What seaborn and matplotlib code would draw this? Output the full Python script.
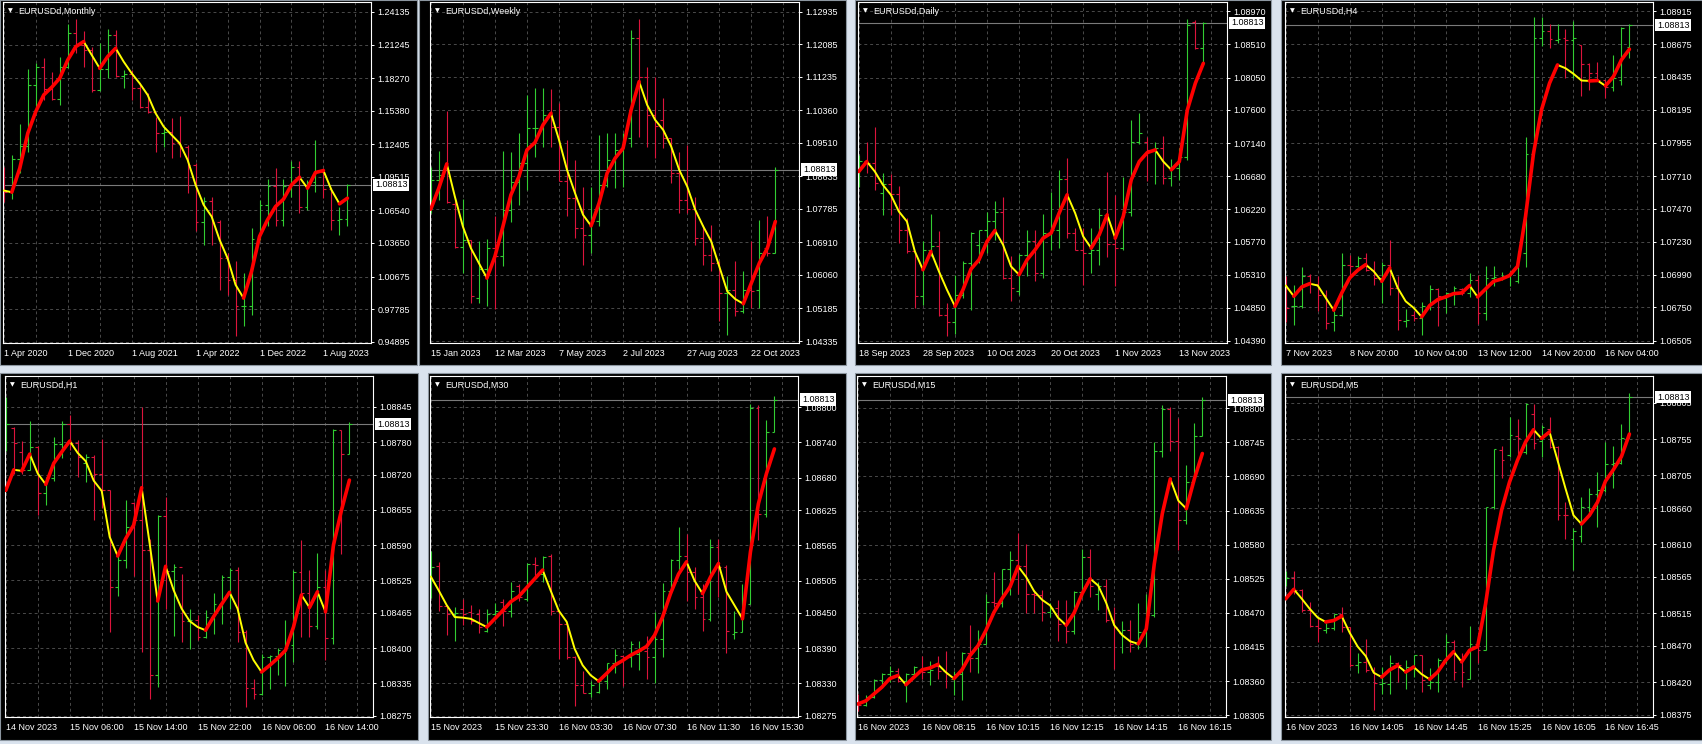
import numpy as np
import matplotlib
matplotlib.use("Agg")
import matplotlib.pyplot as plt
import seaborn as sns
from matplotlib.patches import Rectangle

# ---------------- DATA ----------------
monthly_high = [1.1043,1.1146,1.1421,1.1908,1.1959,1.2003,1.1885,1.2012,1.2307,1.2349,1.2248,
                1.2106,1.2142,1.2260,1.2254,1.1900,1.1900,1.1781,1.1693,1.1486,1.1397,1.1471,
                1.1492,1.1235,1.1072,1.0777,1.0771,1.0570,1.0275,1.0201,1.0098,1.0496,1.0747,
                1.0930,1.1028,1.0930,1.1093,1.1093,1.0925,1.1279,1.1028,1.0851,1.0688,1.0889]
monthly_low = [1.0727,1.0756,1.0984,1.1176,1.1545,1.1634,1.1634,1.1589,1.1914,1.2047,1.1929,
               1.1707,1.1716,1.1826,1.1840,1.1737,1.1634,1.1560,1.1515,1.1176,1.1220,1.1117,
               1.1131,1.0806,1.0467,1.0349,1.0349,0.9950,0.9905,0.9536,0.9625,0.9728,1.0393,
               1.0511,1.0511,1.0511,1.0777,1.0629,1.0659,1.0821,1.0762,1.0482,1.0437,1.0511]
monthly_open = [1.0948,1.0821,1.1108,1.1229,1.1767,1.1929,1.1728,1.1642,1.1923,1.2224,1.2121,
                1.2077,1.1722,1.1905,1.2210,1.1846,1.1864,1.1737,1.1575,1.1530,1.1338,1.1353,
                1.1250,1.1220,1.1058,1.0555,1.0733,1.0555,1.0230,1.0038,0.9802,0.9808,1.0399,
                1.0703,1.0866,1.0570,1.0866,1.1043,1.0682,1.0910,1.0998,1.0842,1.0570,1.0576]
monthly_close = [1.0821,1.1108,1.1229,1.1767,1.1929,1.1728,1.1642,1.1923,1.2224,1.2121,1.2077,
                 1.1722,1.1905,1.2210,1.1846,1.1864,1.1737,1.1575,1.1530,1.1338,1.1353,1.1250,
                 1.1220,1.1058,1.0555,1.0733,1.0555,1.0230,1.0038,0.9802,0.9808,1.0399,1.0703,
                 1.0866,1.0570,1.0866,1.1043,1.0682,1.0910,1.0998,1.0842,1.0570,1.0576,1.08813]
monthly_ma = [1.0830,1.0815,1.1028,1.1338,1.1530,1.1678,1.1746,1.1826,1.1988,1.2106,1.2151,
              1.2032,1.1914,1.2018,1.2092,1.1973,1.1870,1.1781,1.1678,1.1515,1.1397,1.1323,
              1.1250,1.1102,1.0880,1.0703,1.0600,1.0393,1.0230,0.9994,0.9876,1.0112,1.0423,
              1.0570,1.0688,1.0753,1.0880,1.0948,1.0851,1.0990,1.1007,1.0836,1.0712,1.0762]
monthly_prices = [1.24135,1.21245,1.18270,1.15380,1.12405,1.09515,1.06540,1.03650,1.00675,0.97785,0.94895]
monthly_dates = ["1 Apr 2020","1 Dec 2020","1 Aug 2021","1 Apr 2022","1 Dec 2022","1 Aug 2023"]

weekly_high = [1.08891,1.09300,1.10343,1.08039,1.08039,1.06978,1.06934,1.07004,1.07604,1.09300,1.09282,
               1.09761,1.10761,1.10935,1.10935,1.10908,1.10543,1.09587,1.09065,1.08369,1.08369,1.09717,
               1.09761,1.09761,1.09761,1.12456,1.12735,1.11500,1.11239,1.10674,1.09630,1.09282,1.09456,
               1.08108,1.07369,1.07369,1.06413,1.06021,1.06413,1.06152,1.06934,1.07500,1.07587,1.08891]
weekly_low = [1.07674,1.08021,1.07934,1.06760,1.06108,1.05326,1.05326,1.05239,1.05169,1.06300,1.07430,
              1.07891,1.08282,1.09152,1.09413,1.09413,1.08500,1.07587,1.07021,1.06326,1.06630,1.07326,
              1.08369,1.08326,1.08369,1.09413,1.09674,1.09413,1.09108,1.09369,1.08456,1.07674,1.07674,
              1.06847,1.06326,1.06152,1.04847,1.04500,1.04978,1.05065,1.05195,1.05195,1.06543,1.06630]
weekly_open = [1.07778,1.08543,1.08917,1.07917,1.06787,1.06960,1.05456,1.06213,1.06760,1.06543,1.07743,
               1.08474,1.08995,1.09891,1.09908,1.10239,1.09935,1.08500,1.08065,1.07282,1.07108,1.07456,
               1.08413,1.09065,1.09326,1.09630,1.12239,1.11239,1.10239,1.10108,1.09630,1.08717,1.08021,
               1.07778,1.07021,1.06587,1.06369,1.05587,1.05673,1.05108,1.05673,1.05673,1.06760,1.06630]
weekly_close = [1.08543,1.08674,1.07952,1.06787,1.06960,1.05500,1.06213,1.06760,1.06543,1.07743,1.08474,
                1.08995,1.09891,1.09908,1.10239,1.09935,1.08500,1.08065,1.07282,1.07108,1.07456,1.08413,
                1.09065,1.09326,1.09630,1.12239,1.11239,1.10239,1.09952,1.09630,1.08717,1.08021,1.07778,
                1.07021,1.06587,1.06369,1.05587,1.05673,1.05108,1.05673,1.05630,1.06630,1.06630,1.08813]
weekly_ma = [1.07778,1.08326,1.08961,1.08108,1.07326,1.06760,1.06369,1.05978,1.06543,1.07326,1.08152,
             1.08630,1.09326,1.09517,1.09978,1.10282,1.09587,1.08804,1.08195,1.07630,1.07343,1.07934,
             1.08717,1.09108,1.09369,1.10369,1.11108,1.10500,1.10108,1.09848,1.09413,1.08804,1.08369,
             1.07761,1.07326,1.06934,1.06282,1.05630,1.05430,1.05308,1.05847,1.06369,1.06760,1.07456]
weekly_prices = [1.12935,1.12085,1.11235,1.10360,1.09510,1.08635,1.07785,1.06910,1.06060,1.05185,1.04335]
weekly_dates = ["15 Jan 2023","12 Mar 2023","7 May 2023","2 Jul 2023","27 Aug 2023","22 Oct 2023"]

daily_high = [1.06976,1.07161,1.07369,1.06721,1.06712,1.06546,1.06097,1.05634,1.05773,1.06157,1.05912,
              1.04917,1.05311,1.05496,1.05898,1.05935,1.06180,1.06338,1.06388,1.05565,1.05602,1.05935,
              1.05935,1.06157,1.06467,1.06768,1.06939,1.05958,1.05958,1.05958,1.06236,1.06735,1.06421,
              1.06675,1.07462,1.07554,1.07221,1.07161,1.07240,1.06916,1.07068,1.08859,1.08849,1.08826]
daily_low = [1.06536,1.06731,1.06481,1.06143,1.06143,1.05750,1.05611,1.04848,1.04894,1.05565,1.04742,
             1.04464,1.04492,1.04987,1.04816,1.05472,1.05611,1.05796,1.05250,1.04940,1.05033,1.05287,
             1.05218,1.05264,1.05648,1.05681,1.05819,1.05657,1.05172,1.05334,1.05449,1.05556,1.05149,
             1.05657,1.06129,1.07129,1.06606,1.06573,1.06573,1.06546,1.06629,1.06907,1.08442,1.08271]
daily_open = [1.06721,1.06897,1.06860,1.06444,1.06573,1.06435,1.05926,1.05634,1.05019,1.05648,1.05704,
              1.04755,1.04649,1.05033,1.05472,1.05727,1.05935,1.06051,1.06189,1.05264,1.05079,1.05588,
              1.05773,1.05334,1.05889,1.05935,1.06638,1.05889,1.05657,1.05611,1.05657,1.06143,1.05741,
              1.05681,1.06189,1.07161,1.07161,1.07045,1.07068,1.06652,1.06791,1.06953,1.08826,1.08456]
daily_close = [1.06897,1.06860,1.06592,1.06573,1.06435,1.05926,1.05634,1.05019,1.05648,1.05704,1.04755,
               1.04649,1.05033,1.05472,1.05889,1.05935,1.06051,1.06189,1.05264,1.05125,1.05588,1.05773,
               1.05334,1.05889,1.05935,1.06638,1.05889,1.05657,1.05611,1.05657,1.06143,1.05741,1.05681,
               1.06189,1.07161,1.07286,1.07045,1.07068,1.06652,1.06791,1.06953,1.08780,1.08456,1.08813]
daily_ma = [1.06745,1.06883,1.06745,1.06560,1.06421,1.06189,1.06051,1.05634,1.05380,1.05634,1.05357,
            1.05102,1.04871,1.05102,1.05389,1.05519,1.05773,1.05926,1.05727,1.05426,1.05311,1.05519,
            1.05657,1.05819,1.05889,1.06166,1.06421,1.06166,1.05843,1.05681,1.05866,1.06143,1.05819,
            1.06120,1.06629,1.06883,1.07008,1.07045,1.06883,1.06768,1.06883,1.07600,1.07971,1.08248]
daily_prices = [1.08970,1.08510,1.08050,1.07600,1.07140,1.06680,1.06220,1.05770,1.05310,1.04850,1.04390]
daily_dates = ["18 Sep 2023","28 Sep 2023","10 Oct 2023","20 Oct 2023","1 Nov 2023","13 Nov 2023"]

h4_high = [1.06978,1.06917,1.07044,1.06997,1.06983,1.06876,1.06722,1.07148,1.07136,1.07129,1.07148,
           1.07087,1.07080,1.07245,1.06978,1.06739,1.06722,1.06788,1.06917,1.06893,1.06861,1.06905,
           1.06893,1.07002,1.06990,1.07051,1.07051,1.07007,1.07014,1.07160,1.07995,1.08871,1.08871,
           1.08823,1.08823,1.08784,1.08847,1.08669,1.08540,1.08548,1.08414,1.08596,1.08803,1.08820]
h4_low = [1.06642,1.06625,1.06747,1.06856,1.06722,1.06593,1.06576,1.06691,1.06958,1.07039,1.07014,
          1.06917,1.06783,1.06844,1.06584,1.06608,1.06649,1.06545,1.06734,1.06613,1.06710,1.06771,
          1.06844,1.06827,1.06632,1.06661,1.06905,1.06953,1.06905,1.06929,1.07046,1.07873,1.08662,
          1.08645,1.08686,1.08426,1.08426,1.08297,1.08341,1.08414,1.08280,1.08329,1.08377,1.08572]
h4_open = [1.06905,1.06759,1.06759,1.06978,1.06924,1.06844,1.06642,1.06698,1.07063,1.07051,1.07112,
           1.07026,1.06966,1.07063,1.06893,1.06649,1.06698,1.06674,1.06764,1.06885,1.06820,1.06856,
           1.06885,1.06856,1.06953,1.06710,1.06966,1.06966,1.06978,1.06941,1.07148,1.07873,1.08718,
           1.08774,1.08706,1.08718,1.08706,1.08669,1.08531,1.08462,1.08414,1.08360,1.08414,1.08657]
h4_close = [1.06747,1.06764,1.06983,1.06924,1.06844,1.06637,1.06698,1.07063,1.07051,1.07112,1.07026,
            1.06966,1.07063,1.06893,1.06661,1.06657,1.06674,1.06764,1.06885,1.06832,1.06856,1.06893,
            1.06856,1.06953,1.06710,1.06966,1.06973,1.06978,1.07002,1.07148,1.07873,1.08718,1.08774,
            1.08711,1.08711,1.08706,1.08718,1.08531,1.08462,1.08414,1.08360,1.08426,1.08791,1.08813]
h4_ma = [1.06910,1.06832,1.06900,1.06924,1.06910,1.06820,1.06730,1.06856,1.06966,1.07022,1.07063,
         1.07014,1.06941,1.07039,1.06893,1.06795,1.06747,1.06681,1.06764,1.06807,1.06827,1.06851,
         1.06856,1.06910,1.06827,1.06885,1.06941,1.06958,1.06983,1.07051,1.07416,1.07878,1.08195,
         1.08389,1.08523,1.08499,1.08458,1.08409,1.08406,1.08409,1.08370,1.08438,1.08560,1.08638]
h4_prices = [1.08915,1.08675,1.08435,1.08195,1.07955,1.07710,1.07470,1.07230,1.06990,1.06750,1.06505]
h4_dates = ["7 Nov 2023","8 Nov 20:00","10 Nov 04:00","13 Nov 12:00","14 Nov 20:00","16 Nov 04:00"]

h1_high = [1.08864,1.08808,1.08782,1.08819,1.08773,1.08716,1.08789,1.08819,1.08830,1.08784,1.08759,
           1.08756,1.08785,1.08691,1.08578,1.08673,1.08670,1.08845,1.08602,1.08645,1.08679,1.08556,
           1.08536,1.08473,1.08461,1.08470,1.08502,1.08535,1.08547,1.08550,1.08433,1.08344,1.08390,
           1.08387,1.08401,1.08452,1.08544,1.08599,1.08544,1.08575,1.08545,1.08805,1.08802,1.08817]
h1_low = [1.08764,1.08722,1.08722,1.08728,1.08645,1.08664,1.08709,1.08750,1.08765,1.08716,1.08707,
          1.08636,1.08658,1.08430,1.08496,1.08547,1.08533,1.08393,1.08307,1.08328,1.08473,1.08422,
          1.08412,1.08399,1.08415,1.08418,1.08427,1.08445,1.08473,1.08412,1.08292,1.08307,1.08313,
          1.08325,1.08350,1.08330,1.08375,1.08421,1.08421,1.08436,1.08379,1.08408,1.08573,1.08758]
h1_open = [1.08771,1.08807,1.08762,1.08729,1.08771,1.08686,1.08713,1.08777,1.08813,1.08779,1.08741,
           1.08752,1.08722,1.08691,1.08512,1.08562,1.08667,1.08636,1.08581,1.08350,1.08643,1.08543,
           1.08550,1.08450,1.08452,1.08421,1.08458,1.08482,1.08531,1.08544,1.08430,1.08327,1.08315,
           1.08384,1.08385,1.08396,1.08405,1.08541,1.08501,1.08440,1.08513,1.08418,1.08802,1.08759]
h1_close = [1.08814,1.08779,1.08729,1.08771,1.08686,1.08713,1.08777,1.08813,1.08779,1.08752,1.08752,
            1.08722,1.08691,1.08512,1.08562,1.08624,1.08636,1.08581,1.08350,1.08643,1.08543,1.08550,
            1.08450,1.08452,1.08421,1.08458,1.08482,1.08531,1.08544,1.08430,1.08327,1.08315,1.08384,
            1.08385,1.08396,1.08405,1.08541,1.08501,1.08440,1.08513,1.08418,1.08802,1.08759,1.08813]
h1_ma = [1.08691,1.08729,1.08727,1.08758,1.08722,1.08702,1.08741,1.08762,1.08782,1.08760,1.08745,
         1.08709,1.08690,1.08605,1.08570,1.08602,1.08627,1.08696,1.08593,1.08487,1.08551,1.08507,
         1.08473,1.08450,1.08439,1.08433,1.08458,1.08481,1.08503,1.08473,1.08410,1.08378,1.08356,
         1.08368,1.08381,1.08396,1.08439,1.08498,1.08475,1.08504,1.08467,1.08590,1.08654,1.08710]
h1_prices = [1.08845,1.08780,1.08720,1.08655,1.08590,1.08525,1.08465,1.08400,1.08335,1.08275]
h1_dates = ["14 Nov 2023","15 Nov 06:00","15 Nov 14:00","15 Nov 22:00","16 Nov 06:00","16 Nov 14:00"]

m30_high = [1.08555,1.08537,1.08463,1.08460,1.08473,1.08463,1.08456,1.08456,1.08467,1.08473,1.08503,
            1.08499,1.08535,1.08545,1.08546,1.08550,1.08454,1.08433,1.08376,1.08352,1.08335,1.08336,
            1.08365,1.08388,1.08378,1.08402,1.08403,1.08410,1.08452,1.08501,1.08541,1.08597,1.08585,
            1.08528,1.08500,1.08575,1.08575,1.08531,1.08454,1.08499,1.08806,1.08803,1.08778,1.08819]
m30_low = [1.08476,1.08453,1.08412,1.08402,1.08429,1.08431,1.08416,1.08418,1.08440,1.08427,1.08443,
           1.08470,1.08471,1.08511,1.08503,1.08446,1.08372,1.08372,1.08291,1.08313,1.08307,1.08314,
           1.08321,1.08347,1.08325,1.08358,1.08353,1.08338,1.08330,1.08375,1.08483,1.08518,1.08470,
           1.08457,1.08420,1.08437,1.08477,1.08382,1.08405,1.08418,1.08466,1.08574,1.08613,1.08758]
m30_open = [1.08483,1.08529,1.08461,1.08448,1.08456,1.08452,1.08448,1.08420,1.08448,1.08469,1.08454,
            1.08495,1.08474,1.08534,1.08517,1.08546,1.08453,1.08432,1.08375,1.08327,1.08314,1.08316,
            1.08335,1.08364,1.08376,1.08375,1.08381,1.08385,1.08375,1.08405,1.08488,1.08540,1.08546,
            1.08520,1.08477,1.08440,1.08562,1.08528,1.08415,1.08418,1.08466,1.08799,1.08618,1.08758]
m30_close = [1.08528,1.08461,1.08448,1.08450,1.08448,1.08437,1.08426,1.08448,1.08454,1.08454,1.08488,
             1.08477,1.08534,1.08531,1.08545,1.08453,1.08432,1.08375,1.08327,1.08314,1.08327,1.08335,
             1.08364,1.08378,1.08375,1.08398,1.08385,1.08375,1.08405,1.08488,1.08540,1.08546,1.08520,
             1.08477,1.08440,1.08562,1.08528,1.08419,1.08418,1.08466,1.08799,1.08618,1.08758,1.08813]
m30_ma = [1.08512,1.08488,1.08463,1.08443,1.08442,1.08440,1.08433,1.08426,1.08440,1.08454,1.08469,
          1.08478,1.08493,1.08508,1.08523,1.08488,1.08454,1.08435,1.08389,1.08361,1.08344,1.08334,
          1.08347,1.08361,1.08369,1.08378,1.08385,1.08393,1.08412,1.08443,1.08483,1.08516,1.08537,
          1.08505,1.08483,1.08511,1.08534,1.08486,1.08463,1.08440,1.08554,1.08636,1.08687,1.08729]
m30_prices = [1.08800,1.08740,1.08680,1.08625,1.08565,1.08505,1.08450,1.08390,1.08330,1.08275]
m30_dates = ["15 Nov 2023","15 Nov 23:30","16 Nov 03:30","16 Nov 07:30","16 Nov 11:30","16 Nov 15:30"]

m15_high = [1.08339,1.08338,1.08364,1.08373,1.08385,1.08381,1.08373,1.08385,1.08400,1.08392,1.08400,
            1.08408,1.08377,1.08407,1.08450,1.08443,1.08500,1.08536,1.08541,1.08570,1.08599,1.08581,
            1.08507,1.08507,1.08486,1.08490,1.08491,1.08505,1.08573,1.08573,1.08520,1.08525,1.08480,
            1.08457,1.08458,1.08486,1.08501,1.08746,1.08806,1.08802,1.08785,1.08708,1.08776,1.08818]
m15_low = [1.08312,1.08319,1.08333,1.08351,1.08358,1.08358,1.08326,1.08366,1.08364,1.08354,1.08364,
           1.08349,1.08338,1.08330,1.08374,1.08373,1.08419,1.08479,1.08479,1.08498,1.08501,1.08470,
           1.08470,1.08457,1.08463,1.08424,1.08421,1.08436,1.08496,1.08495,1.08475,1.08455,1.08380,
           1.08405,1.08407,1.08412,1.08415,1.08464,1.08721,1.08731,1.08572,1.08613,1.08681,1.08756]
m15_open = [1.08326,1.08322,1.08334,1.08362,1.08372,1.08377,1.08360,1.08372,1.08378,1.08374,1.08385,
            1.08377,1.08364,1.08371,1.08405,1.08397,1.08420,1.08487,1.08486,1.08541,1.08555,1.08546,
            1.08501,1.08498,1.08471,1.08478,1.08452,1.08440,1.08504,1.08560,1.08501,1.08514,1.08458,
            1.08437,1.08442,1.08420,1.08439,1.08466,1.08731,1.08798,1.08747,1.08620,1.08681,1.08756]
m15_close = [1.08322,1.08334,1.08362,1.08372,1.08377,1.08360,1.08372,1.08383,1.08374,1.08378,1.08377,
             1.08372,1.08371,1.08405,1.08397,1.08420,1.08487,1.08486,1.08541,1.08555,1.08546,1.08501,
             1.08498,1.08471,1.08478,1.08452,1.08440,1.08504,1.08560,1.08514,1.08514,1.08458,1.08447,
             1.08442,1.08420,1.08439,1.08466,1.08731,1.08798,1.08747,1.08620,1.08681,1.08756,1.08813]
m15_ma = [1.08323,1.08328,1.08339,1.08350,1.08364,1.08369,1.08354,1.08366,1.08378,1.08381,1.08387,
          1.08374,1.08364,1.08378,1.08401,1.08417,1.08442,1.08471,1.08493,1.08512,1.08545,1.08528,
          1.08505,1.08491,1.08482,1.08462,1.08450,1.08470,1.08501,1.08525,1.08514,1.08486,1.08450,
          1.08434,1.08424,1.08420,1.08444,1.08549,1.08630,1.08686,1.08651,1.08638,1.08686,1.08727]
m15_prices = [1.08800,1.08745,1.08690,1.08635,1.08580,1.08525,1.08470,1.08415,1.08360,1.08305]
m15_dates = ["16 Nov 2023","16 Nov 08:15","16 Nov 10:15","16 Nov 12:15","16 Nov 14:15","16 Nov 16:15"]

m5_high = [1.08573,1.08573,1.08548,1.08531,1.08508,1.08501,1.08514,1.08524,1.08496,1.08460,1.08480,
           1.08441,1.08441,1.08457,1.08448,1.08451,1.08458,1.08458,1.08439,1.08454,1.08487,1.08478,
           1.08460,1.08498,1.08483,1.08662,1.08742,1.08746,1.08786,1.08783,1.08805,1.08804,1.08774,
           1.08786,1.08746,1.08668,1.08632,1.08675,1.08688,1.08710,1.08751,1.08746,1.08776,1.08819]
m5_low = [1.08552,1.08542,1.08517,1.08496,1.08475,1.08488,1.08492,1.08489,1.08441,1.08433,1.08434,
          1.08381,1.08404,1.08404,1.08420,1.08411,1.08427,1.08407,1.08411,1.08407,1.08446,1.08423,
          1.08413,1.08425,1.08446,1.08464,1.08659,1.08701,1.08731,1.08726,1.08735,1.08742,1.08730,
          1.08743,1.08643,1.08618,1.08574,1.08613,1.08655,1.08634,1.08682,1.08688,1.08721,1.08757]
m5_open = [1.08561,1.08563,1.08547,1.08519,1.08498,1.08492,1.08494,1.08514,1.08496,1.08443,1.08448,
           1.08437,1.08417,1.08417,1.08446,1.08436,1.08439,1.08457,1.08416,1.08420,1.08450,1.08475,
           1.08450,1.08425,1.08473,1.08465,1.08661,1.08740,1.08733,1.08759,1.08737,1.08790,1.08752,
           1.08769,1.08744,1.08651,1.08618,1.08622,1.08662,1.08680,1.08685,1.08721,1.08722,1.08757]
m5_close = [1.08563,1.08547,1.08519,1.08498,1.08494,1.08495,1.08514,1.08496,1.08443,1.08448,1.08437,
            1.08419,1.08419,1.08446,1.08443,1.08441,1.08457,1.08423,1.08420,1.08450,1.08475,1.08434,
            1.08434,1.08473,1.08465,1.08661,1.08741,1.08726,1.08760,1.08756,1.08803,1.08749,1.08772,
            1.08744,1.08651,1.08650,1.08629,1.08662,1.08680,1.08685,1.08721,1.08722,1.08757,1.08813]
m5_ma = [1.08535,1.08548,1.08535,1.08521,1.08509,1.08503,1.08505,1.08511,1.08488,1.08469,1.08456,
         1.08433,1.08427,1.08437,1.08443,1.08434,1.08441,1.08431,1.08424,1.08434,1.08450,1.08462,
         1.08448,1.08464,1.08469,1.08528,1.08602,1.08657,1.08696,1.08726,1.08751,1.08768,1.08756,
         1.08765,1.08726,1.08687,1.08650,1.08638,1.08650,1.08668,1.08697,1.08713,1.08731,1.08762]
m5_prices = [1.08805,1.08755,1.08705,1.08660,1.08610,1.08565,1.08515,1.08470,1.08420,1.08375]
m5_dates = ["16 Nov 2023","16 Nov 14:05","16 Nov 14:45","16 Nov 15:25","16 Nov 16:05","16 Nov 16:45"]

current_price = 1.08813
symbol = "EURUSDd"

# ---------------- STYLE / LAYOUT ----------------
W, H = 1702, 744
BAR_UP = "#32cd32"
BAR_DN = "#dc143c"
MA_UP = "#ff0000"
MA_DN = "#ffff00"
GRID = "#4a4a4a"
GAP = "#dae3ee"

sns.set_style("dark", {"axes.facecolor": "black", "figure.facecolor": GAP})
plt.rcParams["font.family"] = ["Liberation Sans", "DejaVu Sans"]
plt.rcParams["font.size"] = 6.5

panels = [
    dict(tf="Monthly", o=monthly_open, h=monthly_high, l=monthly_low, c=monthly_close, ma=monthly_ma,
         yt=monthly_prices, xt=monthly_dates, ylim=(0.94777, 1.25021),
         plot=(3, 2, 371, 343), win=(0, 0, 417, 365)),
    dict(tf="Weekly", o=weekly_open, h=weekly_high, l=weekly_low, c=weekly_close, ma=weekly_ma,
         yt=weekly_prices, xt=weekly_dates, ylim=(1.04283, 1.13187),
         plot=(430, 2, 799, 343), win=(419, 0, 846, 365)),
    dict(tf="Daily", o=daily_open, h=daily_high, l=daily_low, c=daily_close, ma=daily_ma,
         yt=daily_prices, xt=daily_dates, ylim=(1.04362, 1.09100),
         plot=(858, 2, 1227, 343), win=(855, 0, 1271, 365)),
    dict(tf="H4", o=h4_open, h=h4_high, l=h4_low, c=h4_close, ma=h4_ma,
         yt=h4_prices, xt=h4_dates, ylim=(1.06490, 1.08983),
         plot=(1285, 2, 1653, 343), win=(1281, 0, 1702, 365)),
    dict(tf="H1", o=h1_open, h=h1_high, l=h1_low, c=h1_close, ma=h1_ma,
         yt=h1_prices, xt=h1_dates, ylim=(1.08273, 1.08902),
         plot=(5, 376, 373, 717), win=(0, 373, 418, 740)),
    dict(tf="M30", o=m30_open, h=m30_high, l=m30_low, c=m30_close, ma=m30_ma,
         yt=m30_prices, xt=m30_dates, ylim=(1.08273, 1.08853),
         plot=(430, 376, 798, 717), win=(428, 373, 846, 740)),
    dict(tf="M15", o=m15_open, h=m15_high, l=m15_low, c=m15_close, ma=m15_ma,
         yt=m15_prices, xt=m15_dates, ylim=(1.08302, 1.08852),
         plot=(857, 376, 1226, 717), win=(855, 373, 1271, 740)),
    dict(tf="M5", o=m5_open, h=m5_high, l=m5_low, c=m5_close, ma=m5_ma,
         yt=m5_prices, xt=m5_dates, ylim=(1.08372, 1.08842),
         plot=(1285, 376, 1653, 717), win=(1281, 373, 1702, 740)),
]

fig = plt.figure(figsize=(W / 100, H / 100), dpi=100)
fig.patch.set_facecolor(GAP)


def frac(x0, y0, x1, y1):
    return [x0 / W, 1 - y1 / H, (x1 - x0) / W, (y1 - y0) / H]


for p in panels:
    wx0, wy0, wx1, wy1 = p["win"]
    fig.add_artist(Rectangle((wx0 / W, 1 - wy1 / H), (wx1 - wx0) / W, (wy1 - wy0) / H,
                             transform=fig.transFigure, facecolor="black",
                             edgecolor="#8c96a0", linewidth=0.8, zorder=-5))

    ax = fig.add_axes(frac(*p["plot"]))
    ax.set_facecolor("black")
    o = np.array(p["o"]); hi = np.array(p["h"]); lo = np.array(p["l"])
    c = np.array(p["c"]); ma = np.array(p["ma"])
    n = min(len(o), len(hi), len(lo), len(c), len(ma))
    o, hi, lo, c, ma = o[:n], hi[:n], lo[:n], c[:n], ma[:n]
    x = np.arange(n)

    # grid
    ax.set_axisbelow(True)
    ax.set_yticks(p["yt"])
    ax.set_yticklabels([f"{v:.5f}" for v in p["yt"]])
    ax.set_xticks(np.arange(0, 41, 8))
    ax.set_xticklabels(p["xt"])
    ax.set_xticks(np.arange(0, 45, 4), minor=True)
    ax.grid(True, which="major", axis="both", color=GRID, linestyle=(0, (3, 3)), linewidth=0.7)
    ax.grid(True, which="minor", axis="x", color=GRID, linestyle=(0, (3, 3)), linewidth=0.7)

    # current price line
    ax.axhline(current_price, color="#7a7a7a", linewidth=0.8, zorder=1)

    # OHLC bars
    cols = np.where(c >= o, BAR_UP, BAR_DN)
    ax.vlines(x, lo, hi, colors=cols, linewidth=0.8, zorder=2)
    ax.hlines(o, x - 0.36, x, colors=cols, linewidth=0.8, zorder=2)
    ax.hlines(c, x, x + 0.36, colors=cols, linewidth=0.8, zorder=2)

    # moving average coloured by direction (seaborn line segments)
    rising = np.diff(ma) > 0
    i = 0
    while i < n - 1:
        j = i
        while j + 1 < n - 1 and rising[j + 1] == rising[i]:
            j += 1
        up = bool(rising[i])
        sns.lineplot(x=x[i:j + 2], y=ma[i:j + 2], ax=ax, sort=False, estimator=None,
                     color=MA_UP if up else MA_DN, linewidth=2.6 if up else 1.4,
                     zorder=4 if up else 3, solid_capstyle="round", solid_joinstyle="round")
        i = j + 1

    ax.set_xlabel("")
    ax.set_ylabel("")
    ax.set_xlim(-0.1, 45.95)
    ax.set_ylim(*p["ylim"])

    ax.yaxis.tick_right()
    ax.tick_params(axis="y", which="major", direction="out", length=2.5, width=0.7,
                   colors="white", labelsize=6.5, pad=2.2)
    ax.tick_params(axis="x", which="major", direction="out", length=2.5, width=0.7,
                   colors="white", labelsize=6.5, pad=2.0)
    ax.tick_params(axis="x", which="minor", length=0)
    for lbl in ax.get_xticklabels():
        lbl.set_horizontalalignment("left")
    for s in ax.spines.values():
        s.set_color("white")
        s.set_linewidth(0.8)
        s.set_visible(True)

    # current price label
    ax.annotate(f"{current_price:.5f}", xy=(1, current_price), xycoords=("axes fraction", "data"),
                xytext=(4, 0), textcoords="offset pixels", ha="left", va="center",
                color="black", fontsize=6.5, annotation_clip=False, zorder=10,
                bbox=dict(boxstyle="square,pad=0.18", facecolor="white", edgecolor="none"))

    # title
    ax.annotate("\u25BC", xy=(0, 1), xycoords="axes fraction", xytext=(7, -9),
                textcoords="offset pixels", ha="center", va="center", color="white",
                fontsize=4.5, family=["DejaVu Sans"], zorder=10)
    ax.annotate(f"{symbol},{p['tf']}", xy=(0, 1), xycoords="axes fraction", xytext=(15, -9),
                textcoords="offset pixels", ha="left", va="center", color="white",
                fontsize=6.5, zorder=10)

fig.savefig("out.png", dpi=100, facecolor=GAP)
